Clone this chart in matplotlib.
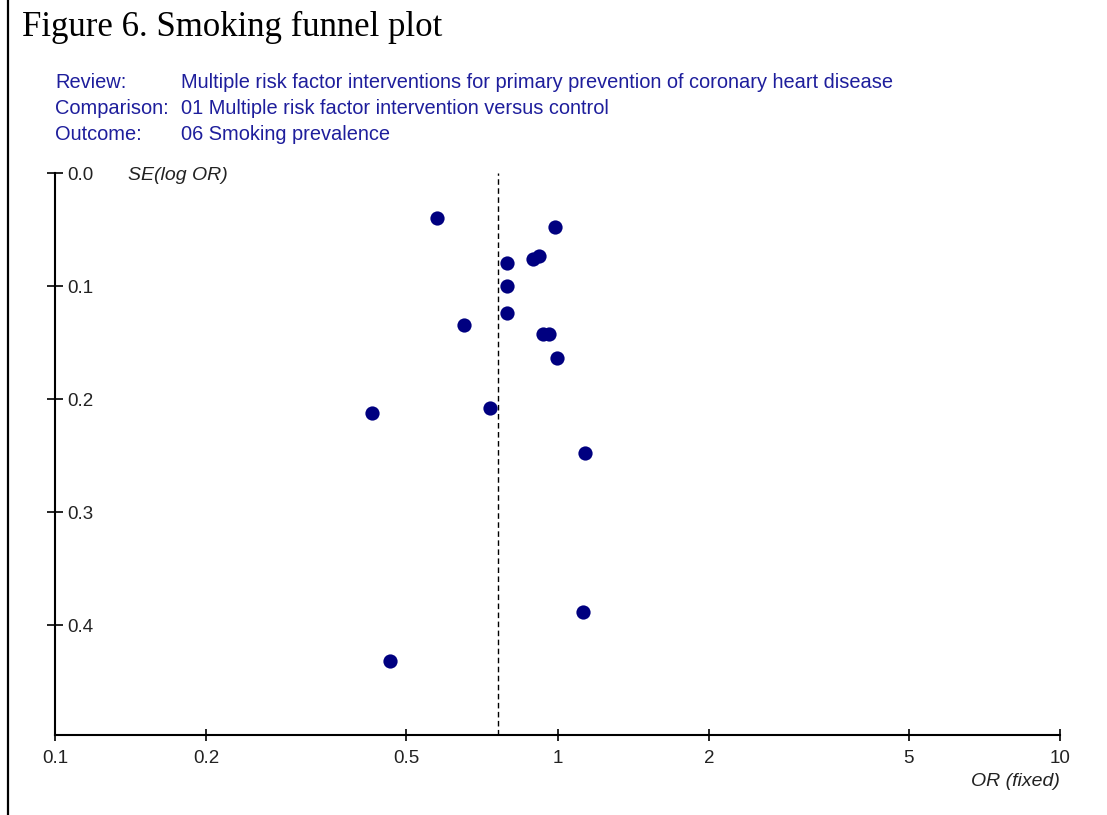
import matplotlib.pyplot as plt
from matplotlib.lines import Line2D
from matplotlib.ticker import FixedLocator, FixedFormatter, NullLocator

# odds ratio (fixed) and standard error of log OR for each trial
odds_ratio = [0.575, 0.989, 0.919, 0.894, 0.794, 0.794, 0.794, 0.651,
              0.936, 0.962, 0.998, 0.734, 0.427, 1.135, 1.124, 0.464]
se_log_or = [0.040, 0.048, 0.073, 0.076, 0.080, 0.100, 0.124, 0.134,
             0.142, 0.142, 0.164, 0.208, 0.212, 0.248, 0.388, 0.432]
pooled_or = 0.761

x_ticks = [0.1, 0.2, 0.5, 1, 2, 5, 10]
x_tick_labels = ['0.1', '0.2', '0.5', '1', '2', '5', '10']
y_ticks = [0.0, 0.1, 0.2, 0.3, 0.4]
y_tick_labels = ['0.0', '0.1', '0.2', '0.3', '0.4']

header_keys = ['Review:', 'Comparison:', 'Outcome:']
header_values = ['Multiple risk factor interventions for primary prevention of coronary heart disease',
                 '01 Multiple risk factor intervention versus control',
                 '06 Smoking prevalence']

W, H = 1107, 815
fig = plt.figure(figsize=(W / 100, H / 100), dpi=100)
ax = fig.add_axes([55 / W, 1 - 735 / H, (1060 - 55) / W, (735 - 173) / H])

ax.scatter(odds_ratio, se_log_or, s=105, color='#000080', zorder=3, linewidths=0)
ax.axvline(pooled_or, color='black', lw=1.0, ls=(0, (4, 2.5)), zorder=2)

ax.set_xscale('log')
ax.set_xlim(0.1, 10)
ax.set_ylim(0.497, 0.0)
ax.xaxis.set_major_locator(FixedLocator(x_ticks))
ax.xaxis.set_major_formatter(FixedFormatter(x_tick_labels))
ax.xaxis.set_minor_locator(NullLocator())
ax.yaxis.set_major_locator(FixedLocator(y_ticks))
ax.yaxis.set_major_formatter(FixedFormatter(y_tick_labels))

for side in ['top', 'right']:
    ax.spines[side].set_visible(False)
for side in ['left', 'bottom']:
    ax.spines[side].set_linewidth(1.5)

tick_font = 'Liberation Sans'
ax.tick_params(axis='x', direction='inout', length=9, width=1.2, pad=6,
               labelsize=13.5, labelcolor='#222222')
ax.tick_params(axis='y', direction='inout', length=11, width=1.2, pad=-14.5,
               labelsize=13.5, labelcolor='#222222')
for lab in ax.get_xticklabels() + ax.get_yticklabels():
    lab.set_fontfamily(tick_font)
for lab in ax.get_yticklabels():
    lab.set_horizontalalignment('left')

ax.text(128 / W, 1 - 175 / H, 'SE(log OR)', transform=fig.transFigure,
        fontsize=14, style='italic', family=tick_font, color='#222222',
        ha='left', va='center')
ax.text(1060 / W, 1 - 782 / H, 'OR (fixed)', transform=fig.transFigure,
        fontsize=14, style='italic', family=tick_font, color='#222222',
        ha='right', va='center')

fig.text(22 / W, 1 - 27 / H, 'Figure 6. Smoking funnel plot',
         fontsize=25, family='Liberation Serif', color='black',
         ha='left', va='center')

blue = '#1e1e9c'
for i, (k, v) in enumerate(zip(header_keys, header_values)):
    y = 1 - (82 + 26.5 * i) / H
    fig.text(55 / W, y, k, fontsize=14.4, family=tick_font, color=blue,
             ha='left', va='center')
    fig.text(181 / W, y, v, fontsize=14.4, family=tick_font, color=blue,
             ha='left', va='center')

# border line down the left edge of the page
fig.add_artist(Line2D([7.5 / W, 7.5 / W], [0, 1], transform=fig.transFigure,
                      color='black', lw=1.6))

fig.savefig('out.png', dpi=100)
